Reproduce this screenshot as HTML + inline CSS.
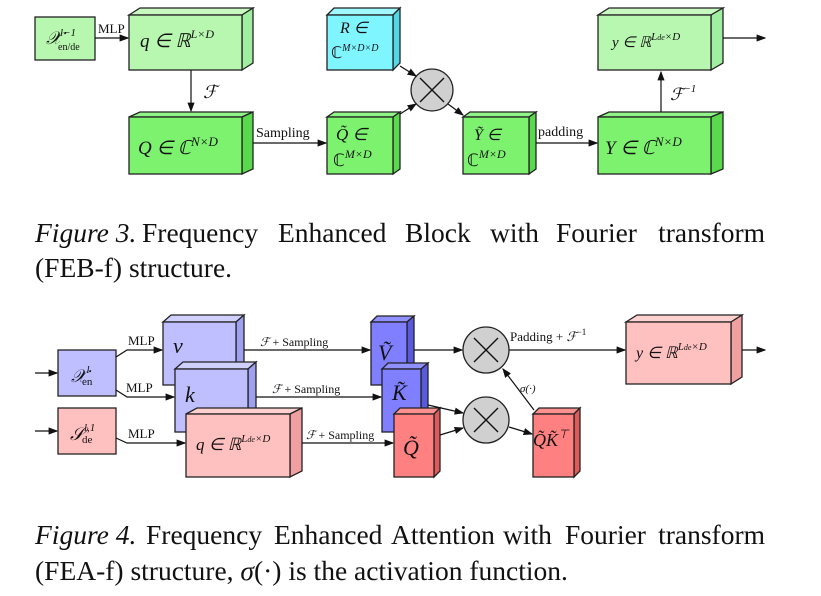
<!DOCTYPE html>
<html><head><meta charset="utf-8"><style>
body{margin:0;background:#fff}
svg text{font-family:"Liberation Serif",serif;fill:#111}
.m{font-style:italic}
</style></head><body>
<svg width="821" height="591" viewBox="0 0 821 591" xmlns="http://www.w3.org/2000/svg">
<defs><marker id="a" markerWidth="8" markerHeight="6" refX="7" refY="3" orient="auto"><path d="M0,0L8,3L0,6z" fill="#111"/></marker></defs>
<g stroke="#222" stroke-width="1.3">
<rect x="35" y="17" width="60" height="43" fill="#b8f7b0"/>
<polygon points="129,15 140,8 253,8 242,15" fill="#c8f9c0"/><polygon points="242,15 253,8 253,63 242,70" fill="#a0eea0"/><rect x="129" y="15" width="113" height="55" fill="#b8f7b0"/>
<polygon points="327,15 334,8 400,8 393,15" fill="#9ff8ff"/><polygon points="393,15 400,8 400,63 393,70" fill="#50d8e8"/><rect x="327" y="15" width="66" height="55" fill="#7ff5ff"/>
<polygon points="129,117 140,112 253,112 242,117" fill="#90f488"/><polygon points="242,117 253,112 253,169 242,174" fill="#5ad84e"/><rect x="129" y="117" width="113" height="57" fill="#7cf26e"/>
<polygon points="327,117 334,112 400,112 393,117" fill="#90f488"/><polygon points="393,117 400,112 400,169 393,174" fill="#5ad84e"/><rect x="327" y="117" width="66" height="57" fill="#7cf26e"/>
<polygon points="463,117 470,112 536,112 529,117" fill="#90f488"/><polygon points="529,117 536,112 536,169 529,174" fill="#5ad84e"/><rect x="463" y="117" width="66" height="57" fill="#7cf26e"/>
<polygon points="598,117 609,112 723,112 711,117" fill="#90f488"/><polygon points="711,117 723,112 723,169 711,174" fill="#5ad84e"/><rect x="598" y="117" width="113" height="57" fill="#7cf26e"/>
<polygon points="598,15 609,8 723,8 711,15" fill="#c8f9c0"/><polygon points="711,15 723,8 723,63 711,70" fill="#a0eea0"/><rect x="598" y="15" width="113" height="55" fill="#b8f7b0"/>
<circle cx="432" cy="90" r="21" fill="#d0d0d0"/>
</g>
<g stroke="#111" stroke-width="1.2" fill="none">
<line x1="95" y1="38" x2="128" y2="38" marker-end="url(#a)"/>
<line x1="191" y1="70" x2="191" y2="111" marker-end="url(#a)"/>
<line x1="253" y1="143" x2="326" y2="143" marker-end="url(#a)"/>
<line x1="400" y1="66" x2="416" y2="76" marker-end="url(#a)"/>
<line x1="400" y1="114" x2="416" y2="104" marker-end="url(#a)"/>
<line x1="448" y1="104" x2="463" y2="115" marker-end="url(#a)"/>
<line x1="536" y1="143" x2="597" y2="143" marker-end="url(#a)"/>
<line x1="661" y1="112" x2="661" y2="72" marker-end="url(#a)"/>
<line x1="723" y1="38" x2="765" y2="38" marker-end="url(#a)"/>
<path d="M420,78L444,102M444,78L420,102" stroke-width="1.4"/>
</g>
<text x="46" y="44" font-size="18" class="m">𝒳</text><text x="60" y="36" font-size="11" class="m">l−1</text><text x="58" y="50" font-size="10">en/de</text>
<text x="98" y="33" font-size="13">MLP</text>
<text x="140" y="47" font-size="19" class="m">q ∈ ℝ<tspan font-size="12" dy="-9">L×D</tspan></text>
<text x="340" y="33" font-size="16" class="m">R ∈</text><text x="331" y="58" font-size="16">ℂ<tspan font-size="10" dy="-7" class="m">M×D×D</tspan></text>
<text x="203" y="98" font-size="18" class="m">ℱ</text>
<text x="138" y="154" font-size="19" class="m">Q ∈ ℂ<tspan font-size="13" dy="-8">N×D</tspan></text>
<text x="256" y="137" font-size="14">Sampling</text>
<text x="336" y="140" font-size="17" class="m">Q̃ ∈</text><text x="333" y="166" font-size="17">ℂ<tspan font-size="12" dy="-8" class="m">M×D</tspan></text>
<text x="474" y="140" font-size="16" class="m">Ỹ ∈</text><text x="467" y="166" font-size="17">ℂ<tspan font-size="12" dy="-8" class="m">M×D</tspan></text>
<text x="538" y="136" font-size="14">padding</text>
<text x="605" y="154" font-size="19" class="m">Y ∈ ℂ<tspan font-size="13" dy="-8">N×D</tspan></text>
<text x="612" y="47" font-size="15" class="m">y ∈ ℝ<tspan font-size="11" dy="-7">L<tspan font-size="8">de</tspan>×D</tspan></text>
<text x="670" y="100" font-size="17" class="m">ℱ<tspan font-size="11" dy="-8">−1</tspan></text>
<g font-size="27.5">
<text x="35" y="242"><tspan font-style="italic">Figure 3.</tspan></text>
<text x="142" y="242">Frequency</text><text x="278" y="242">Enhanced</text><text x="405" y="242">Block</text><text x="490" y="242">with</text><text x="556" y="242">Fourier</text><text x="765" y="242" text-anchor="end">transform</text>
<text x="35" y="277">(FEB-f) structure.</text>
</g>

<g stroke="#222" stroke-width="1.3">
<rect x="58" y="350" width="58" height="46" fill="#bfbfff"/>
<rect x="58" y="408" width="58" height="46" fill="#ffc0c0"/>
<polygon points="163,322 171,315 244,315 236,322" fill="#d0d0ff"/><polygon points="236,322 244,315 244,379 236,385" fill="#a0a0f0"/><rect x="163" y="322" width="73" height="63" fill="#bfbfff"/>
<polygon points="175,369 183,362 256,362 248,369" fill="#d0d0ff"/><polygon points="248,369 256,362 256,426 248,432" fill="#a0a0f0"/><rect x="175" y="369" width="73" height="63" fill="#bfbfff"/>
<polygon points="186,414 197,408 302,408 290,414" fill="#ffd0d0"/><polygon points="290,414 302,408 302,471 290,477" fill="#f0a0a0"/><rect x="186" y="414" width="104" height="63" fill="#ffc0c0"/>
<polygon points="371,322 377,316 414,316 407,322" fill="#9090ff"/><polygon points="407,322 414,316 414,379 407,385" fill="#5a5ae0"/><rect x="371" y="322" width="36" height="63" fill="#7f7fff"/>
<polygon points="382,369 388,363 428,363 421,369" fill="#9090ff"/><polygon points="421,369 428,363 428,426 421,432" fill="#5a5ae0"/><rect x="382" y="369" width="39" height="63" fill="#7f7fff"/>
<polygon points="394,414 400,408 440,408 434,414" fill="#ff9090"/><polygon points="434,414 440,408 440,471 434,477" fill="#e05a5a"/><rect x="394" y="414" width="40" height="63" fill="#ff8080"/>
<polygon points="533,414 539,408 580,408 574,414" fill="#ff9090"/><polygon points="574,414 580,408 580,471 574,477" fill="#e05a5a"/><rect x="533" y="414" width="41" height="63" fill="#ff8080"/>
<polygon points="626,322 637,315 742,315 731,322" fill="#ffd0d0"/><polygon points="731,322 742,315 742,377 731,384" fill="#f0a0a0"/><rect x="626" y="322" width="105" height="62" fill="#ffc0c0"/>
<circle cx="486" cy="350" r="23" fill="#d0d0d0"/>
<circle cx="486" cy="420" r="23" fill="#d0d0d0"/>
</g>
<g stroke="#111" stroke-width="1.2" fill="none">
<line x1="35" y1="373" x2="57" y2="373" marker-end="url(#a)"/>
<line x1="35" y1="431" x2="57" y2="431" marker-end="url(#a)"/>
<polyline points="116,357 127,350 162,350" marker-end="url(#a)"/>
<polyline points="116,390 127,397 174,397" marker-end="url(#a)"/>
<polyline points="116,438 127,443 185,443" marker-end="url(#a)"/>
<line x1="244" y1="350" x2="370" y2="350" marker-end="url(#a)"/>
<line x1="256" y1="397" x2="381" y2="397" marker-end="url(#a)"/>
<line x1="302" y1="443" x2="393" y2="443" marker-end="url(#a)"/>
<line x1="414" y1="350" x2="462" y2="350" marker-end="url(#a)"/>
<line x1="428" y1="405" x2="463" y2="413" marker-end="url(#a)"/>
<line x1="440" y1="435" x2="463" y2="428" marker-end="url(#a)"/>
<line x1="509" y1="427" x2="532" y2="434" marker-end="url(#a)"/>
<line x1="534" y1="410" x2="503" y2="369" marker-end="url(#a)"/>
<line x1="509" y1="350" x2="625" y2="350" marker-end="url(#a)"/>
<line x1="742" y1="350" x2="765" y2="350" marker-end="url(#a)"/>
<path d="M474,338L498,362M498,338L474,362M474,408L498,432M498,408L474,432" stroke-width="1.4"/>
</g>
<text x="71" y="382" font-size="18" class="m">𝒳<tspan font-size="11" dy="-9">l</tspan></text><text x="82" y="385" font-size="11">en</text>
<text x="70" y="440" font-size="18" class="m">𝒮<tspan font-size="11" dy="-9">l,1</tspan></text><text x="82" y="443" font-size="11">de</text>
<text x="128" y="345" font-size="13">MLP</text>
<text x="126" y="392" font-size="13">MLP</text>
<text x="128" y="438" font-size="13">MLP</text>
<text x="173" y="353" font-size="22" class="m">v</text>
<text x="185" y="402" font-size="22" class="m">k</text>
<text x="196" y="450" font-size="17" class="m">q ∈ ℝ<tspan font-size="11" dy="-8">L<tspan font-size="8">de</tspan>×D</tspan></text>
<text x="260" y="346" font-size="12"><tspan class="m">ℱ</tspan> + Sampling</text>
<text x="272" y="393" font-size="12"><tspan class="m">ℱ</tspan> + Sampling</text>
<text x="306" y="439" font-size="12"><tspan class="m">ℱ</tspan> + Sampling</text>
<text x="378" y="360" font-size="22" class="m">Ṽ</text>
<text x="392" y="400" font-size="22" class="m">K̃</text>
<text x="403" y="455" font-size="22" class="m">Q̃</text>
<text x="533" y="446" font-size="18" class="m">Q̃K̃<tspan font-size="12" dy="-8">⊤</tspan></text>
<text x="510" y="341" font-size="13">Padding + <tspan class="m">ℱ</tspan><tspan font-size="9" dy="-6">−1</tspan></text>
<text x="520" y="392" font-size="11" class="m">σ(·)</text>
<text x="636" y="358" font-size="16" class="m">y ∈ ℝ<tspan font-size="11" dy="-8">L<tspan font-size="8">de</tspan>×D</tspan></text>
<g font-size="27.5">
<text x="35" y="544"><tspan font-style="italic">Figure 4.</tspan></text>
<text x="146" y="544">Frequency</text><text x="274" y="544">Enhanced</text><text x="391" y="544">Attention</text><text x="503" y="544">with</text><text x="565" y="544">Fourier</text><text x="765" y="544" text-anchor="end">transform</text>
<text x="35" y="580">(FEA-f) structure, <tspan font-style="italic">σ</tspan>(·) is the activation function.</text>
</g>
</svg>
</body></html>
